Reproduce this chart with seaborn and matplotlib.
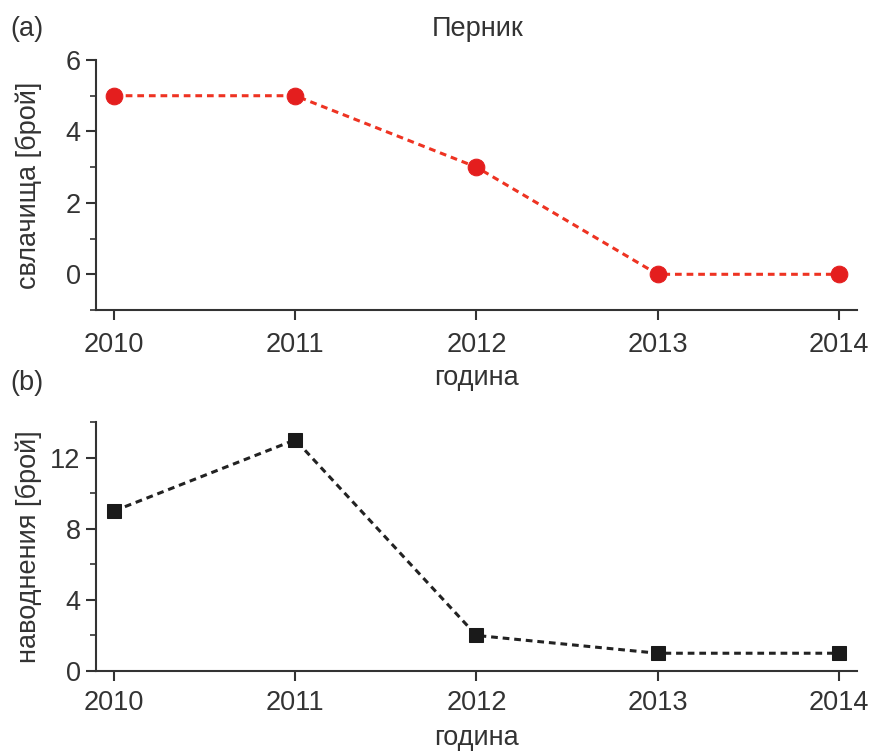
import matplotlib
matplotlib.use('Agg')
import matplotlib.pyplot as plt
import seaborn as sns
import pandas as pd
from matplotlib.ticker import MultipleLocator

years = [2010, 2011, 2012, 2013, 2014]
landslides = [5, 5, 3, 0, 0]
floods = [9, 13, 2, 1, 1]

sns.set_style('ticks')
plt.rcParams['font.family'] = ['Liberation Sans', 'DejaVu Sans']
txt = '#333333'
fs = 19.5

fig = plt.figure(figsize=(8.74, 7.51), dpi=100)
ax1 = fig.add_axes([0.1098, 0.5872, 0.8707, 0.3329])
ax2 = fig.add_axes([0.1098, 0.1065, 0.8707, 0.3316])

df1 = pd.DataFrame({'year': years, 'value': landslides})
df2 = pd.DataFrame({'year': years, 'value': floods})

sns.lineplot(data=df1, x='year', y='value', ax=ax1, color='#ee3322', lw=2.2,
             marker='o', markersize=12, markerfacecolor='#e41e1e',
             markeredgecolor='#e41e1e', dashes=False, linestyle=(0, (2.2, 1.6)))
sns.lineplot(data=df2, x='year', y='value', ax=ax2, color='#222222', lw=2.2,
             marker='s', markersize=10, markerfacecolor='#1a1a1a',
             markeredgecolor='#1a1a1a', dashes=False, linestyle=(0, (2.2, 1.6)))

ax1.set_ylim(-1, 6)
ax1.yaxis.set_major_locator(MultipleLocator(2))
ax1.yaxis.set_minor_locator(MultipleLocator(1))
ax2.set_ylim(0, 14)
ax2.yaxis.set_major_locator(MultipleLocator(4))
ax2.yaxis.set_minor_locator(MultipleLocator(2))

for ax, xpad, lpad in ((ax1, 9, 5), (ax2, 7, 6)):
    ax.set_xlim(2009.9, 2014.1)
    ax.set_xticks(years)
    ax.set_xticklabels([str(y) for y in years])
    for s in ('top', 'right'):
        ax.spines[s].set_visible(False)
    for s in ('left', 'bottom'):
        ax.spines[s].set_linewidth(1.5)
        ax.spines[s].set_color('#333333')
    ax.tick_params(axis='both', which='major', length=7, width=1.5,
                   labelsize=fs, colors='#333333', labelcolor=txt, pad=4)
    ax.tick_params(axis='x', which='major', pad=xpad)
    ax.tick_params(axis='y', which='minor', length=4, width=1.2, color='#333333')
    ax.set_xlabel('година', fontsize=fs, color=txt, labelpad=lpad)

ax1.set_ylabel('свлачища [брой]', fontsize=fs, color=txt, labelpad=17)
ax2.set_ylabel('наводнения [брой]', fontsize=fs, color=txt, labelpad=6)

fig.text(0.547, 0.962, 'Перник', fontsize=fs, color=txt, ha='center', va='center')
fig.text(0.012, 0.962, '(a)', fontsize=fs, color=txt, ha='left', va='center')
fig.text(0.012, 0.49, '(b)', fontsize=fs, color=txt, ha='left', va='center')

fig.savefig('out.png', dpi=100)
